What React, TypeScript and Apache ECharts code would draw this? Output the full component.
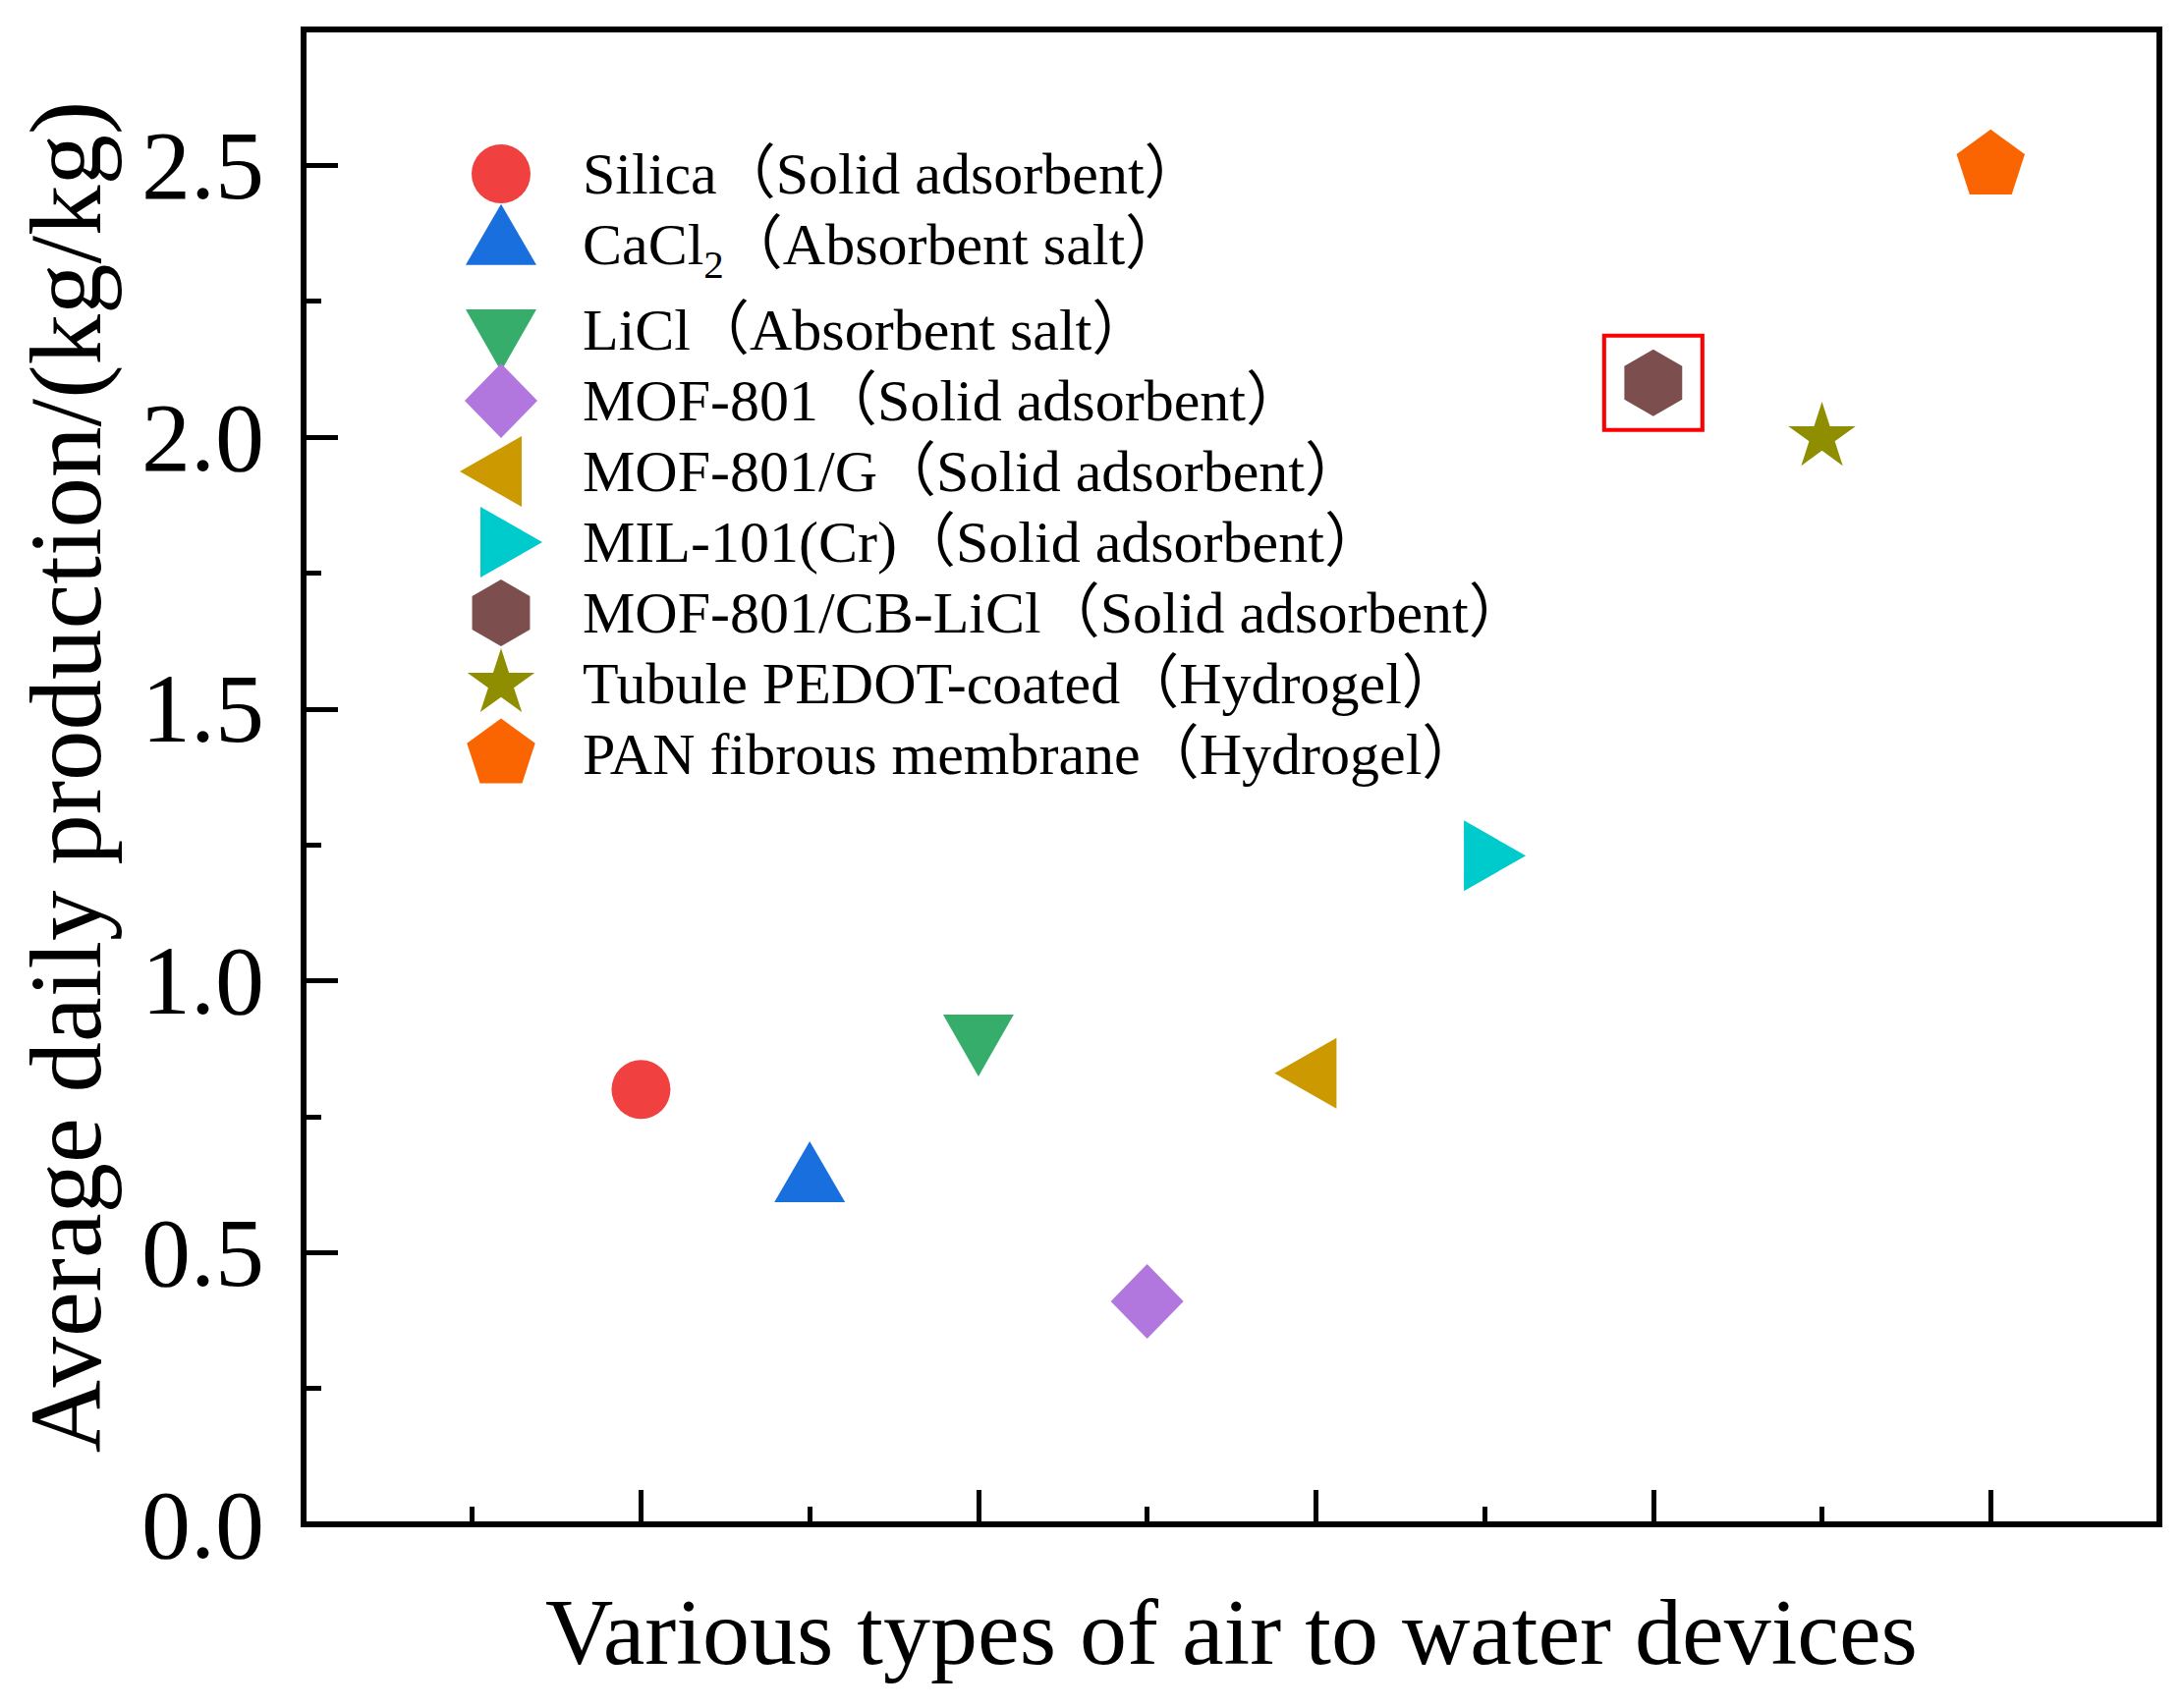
import React, { useEffect, useRef } from 'react';
import * as echarts from 'echarts';

// ---------------- data ----------------
const categories = [
  'Silica（Solid adsorbent）',
  'CaCl2（Absorbent salt）',
  'LiCl（Absorbent salt）',
  'MOF-801（Solid adsorbent）',
  'MOF-801/G（Solid adsorbent）',
  'MIL-101(Cr)（Solid adsorbent）',
  'MOF-801/CB-LiCl（Solid adsorbent）',
  'Tubule PEDOT-coated（Hydrogel）',
  'PAN fibrous membrane（Hydrogel）',
];
const devicePositions = [2, 3, 4, 5, 6, 7, 8, 9, 10];
const dailyProduction = [0.8, 0.63, 0.9, 0.41, 0.83, 1.23, 2.1, 2.0, 2.5];
const highlightIndex = 6;
const colors = ['#F14040', '#1A6FDF', '#37AD6B', '#B177DE', '#CC9900', '#00CBCC', '#7D4E4E', '#8E8E00', '#FB6501'];
const xTitle = 'Various types of air to water devices';
const yTitle = 'Average daily production/(kg/kg)';

// ---------------- symbols ----------------
const FONT = "'Liberation Serif', 'Noto Sans CJK SC', serif";
const F = 43; // half size of the common symbol frame
const frame = `M${-F},${-F} M${F},${F} `;
const fmt = (n: number) => n.toFixed(2);
const poly = (pts: number[][]) =>
  'path://' + frame + 'M' + pts.map((p) => fmt(p[0]) + ',' + fmt(p[1])).join(' L') + ' Z';
const regular = (n: number, R: number) => {
  const pts: number[][] = [];
  for (let k = 0; k < n; k++) {
    const a = ((-90 + (360 / n) * k) * Math.PI) / 180;
    pts.push([R * Math.cos(a), R * Math.sin(a)]);
  }
  return poly(pts);
};
const star = (R: number, r: number) => {
  const pts: number[][] = [];
  for (let k = 0; k < 10; k++) {
    const a = ((-90 + 36 * k) * Math.PI) / 180;
    const rr = k % 2 === 0 ? R : r;
    pts.push([rr * Math.cos(a), rr * Math.sin(a)]);
  }
  return poly(pts);
};
const circle = (r: number) =>
  `path://${frame}M${-r},0 A${r},${r} 0 1,0 ${r},0 A${r},${r} 0 1,0 ${-r},0 Z`;

const symbols = [
  circle(30),
  poly([[0, -41.3], [36, 20.7], [-36, 20.7]]),
  poly([[-36, -21], [36, -21], [0, 42]]),
  poly([[0, -38], [37, 0], [0, 38], [-37, 0]]),
  poly([[-42, 0], [21, -36], [21, 36]]),
  poly([[-21, -36], [42, 0], [-21, 36]]),
  regular(6, 34),
  star(36, 13.75),
  regular(5, 36.5),
];

const isHalf = (v: number) => Math.abs(v * 2 - Math.round(v * 2)) < 1e-9;

export default function App() {
  const ref = useRef<HTMLDivElement>(null);

  useEffect(() => {
    if (!ref.current) return;
    const chart = echarts.init(ref.current, null, { renderer: 'svg', width: 2221, height: 1739 });

    const series = categories.map((name, i) => {
      const s: any = {
        name,
        type: 'scatter',
        xAxisIndex: 0,
        yAxisIndex: 0,
        data: [[devicePositions[i], dailyProduction[i]]],
        symbol: symbols[i],
        symbolSize: 2 * F,
        itemStyle: { color: colors[i], opacity: 1, borderWidth: 0 },
        emphasis: { disabled: true },
        z: 3,
      };
      if (i === highlightIndex) {
        s.markPoint = {
          silent: true,
          symbol: 'rect',
          symbolSize: [100, 96],
          itemStyle: { color: 'rgba(0,0,0,0)', borderColor: '#FF0000', borderWidth: 4 },
          label: { show: false },
          data: [{ coord: [devicePositions[i], dailyProduction[i]] }],
        };
      }
      return s;
    });

    const tickLine = { color: '#000', width: 5 };

    const legendBase = {
      orient: 'vertical',
      left: 467,
      padding: 0,
      itemWidth: 156,
      itemHeight: 2 * F,
      itemGap: 72 - 2 * F,
      selectedMode: false,
      formatter: (name: string) => name.replace('CaCl2', 'CaCl{sub|2}'),
      itemStyle: { borderWidth: 0 },
      textStyle: {
        fontFamily: FONT,
        fontSize: 60,
        color: '#000',
        rich: {
          sub: {
            fontFamily: FONT,
            fontSize: 41,
            color: '#000',
            padding: [40, 0, 0, 0],
          },
        },
      },
    };

    chart.setOption({
      animation: false,
      backgroundColor: '#ffffff',
      grid: {
        left: 309,
        right: 23,
        top: 30,
        bottom: 187,
        show: true,
        borderColor: '#000',
        borderWidth: 6,
        backgroundColor: 'transparent',
        outerBoundsMode: 'none',
      },
      legend: [
        { ...legendBase, top: 134, data: categories.slice(0, 2) },
        { ...legendBase, top: 293, data: categories.slice(2) },
      ],
      xAxis: [
        {
          type: 'value',
          min: 0,
          max: 11,
          interval: 1,
          position: 'bottom',
          axisLine: { show: true, onZero: false, lineStyle: { color: '#000', width: 6 } },
          axisTick: { show: true, inside: true, length: 18, lineStyle: tickLine },
          axisLabel: { show: false },
          splitLine: { show: false },
          name: xTitle,
          nameLocation: 'middle',
          nameGap: 109,
          nameTextStyle: {
            fontFamily: FONT,
            fontSize: 96,
            color: '#000',
            verticalAlign: 'middle',
            align: 'center',
          },
        },
        {
          type: 'value',
          min: 0,
          max: 11,
          interval: 2,
          position: 'bottom',
          axisLine: { show: false, onZero: false },
          axisTick: { show: true, inside: true, length: 35, lineStyle: tickLine },
          axisLabel: { show: false },
          splitLine: { show: false },
        },
      ],
      yAxis: [
        {
          type: 'value',
          min: 0,
          max: 2.75,
          interval: 0.25,
          position: 'left',
          axisLine: { show: true, onZero: false, lineStyle: { color: '#000', width: 6 } },
          axisTick: { show: true, inside: true, length: 18, lineStyle: tickLine },
          axisLabel: { show: false },
          splitLine: { show: false },
          name: yTitle,
          nameLocation: 'middle',
          nameGap: 242,
          nameRotate: 90,
          nameTextStyle: {
            fontFamily: FONT,
            fontSize: 103,
            color: '#000',
            verticalAlign: 'middle',
            align: 'center',
          },
        },
        {
          type: 'value',
          min: 0,
          max: 2.75,
          interval: 0.5,
          position: 'left',
          axisLine: { show: false, onZero: false },
          axisTick: { show: true, inside: true, length: 35, lineStyle: tickLine },
          axisLabel: {
            show: true,
            margin: 40,
            fontFamily: FONT,
            fontSize: 100,
            color: '#000',
            formatter: (v: number) => (isHalf(v) ? v.toFixed(1) : ''),
          },
          splitLine: { show: false },
        },
      ],
      series,
    });

    return () => {
      chart.dispose();
    };
  }, []);

  return (
    <div
      ref={ref}
      style={{ position: 'fixed', left: 0, top: 0, width: 2221, height: 1739, background: '#fff' }}
    />
  );
}
